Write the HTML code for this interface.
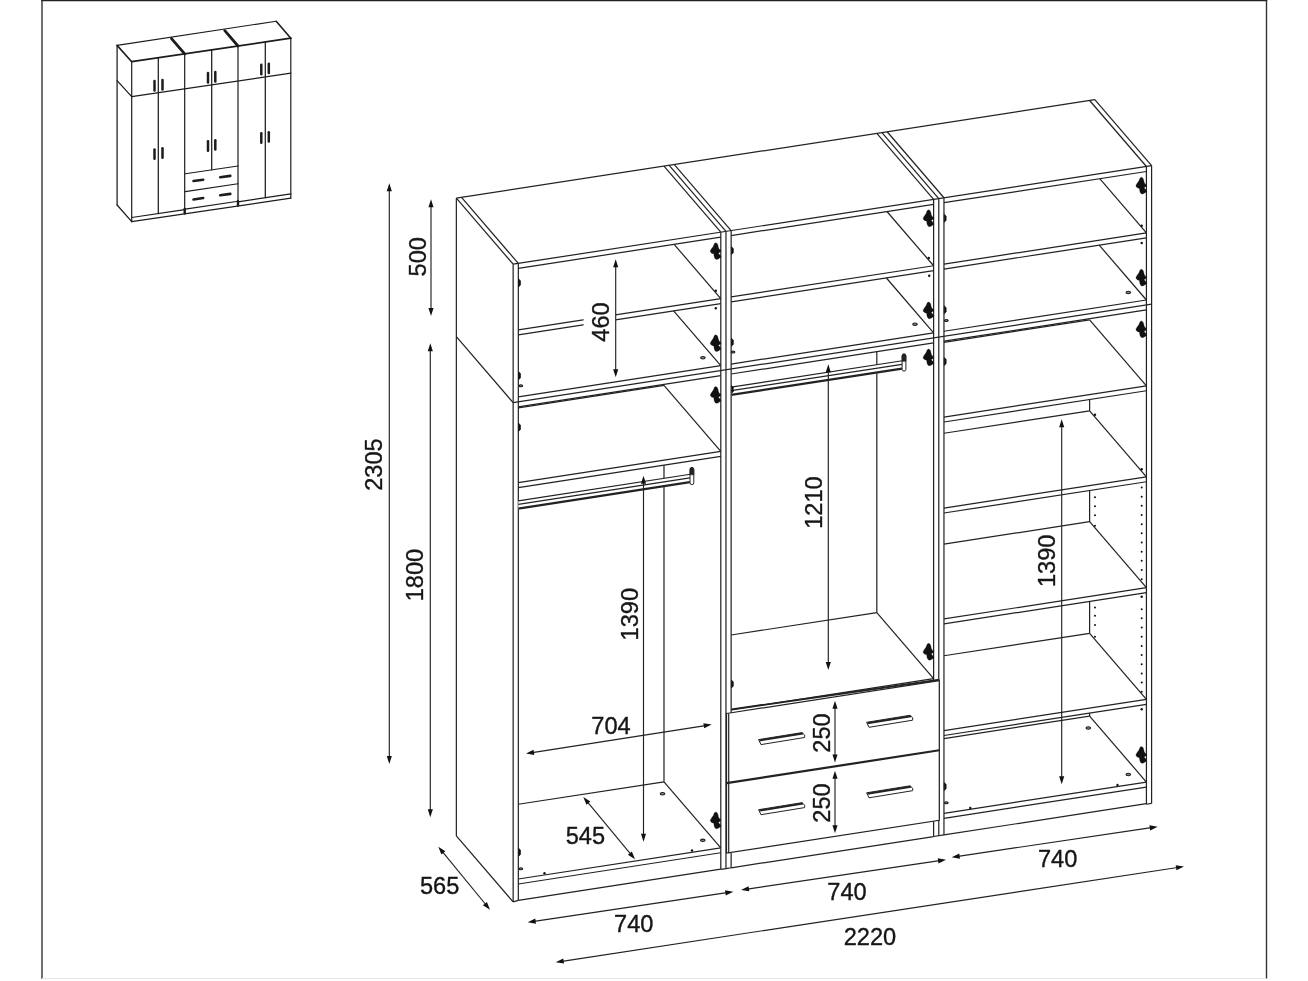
<!DOCTYPE html>
<html><head><meta charset="utf-8"><title>Wardrobe dimensions</title>
<style>
html,body{margin:0;padding:0;background:#fff}
svg{display:block;will-change:transform}
text{font-family:"Liberation Sans",Arial,sans-serif;font-size:23.6px;fill:#161616;stroke:#161616;stroke-width:0.35px;text-anchor:middle}
</style></head><body>
<svg width="1308" height="981" viewBox="0 0 1308 981">
<rect width="1308" height="981" fill="#fff"/>
<g stroke="#333" stroke-width="1.4" fill="none">
<line x1="42" y1="0" x2="42" y2="978.8"/>
<line x1="1266.5" y1="0" x2="1266.5" y2="978.8"/>
<line x1="41.3" y1="0.5" x2="1267.2" y2="0.5" stroke-width="1.6" stroke="#222"/>
<line x1="42" y1="978.5" x2="1266.5" y2="978.5" stroke="#e6e6e6" stroke-width="1"/>
</g>
<g stroke="#1c1c1c" stroke-width="1.25" fill="none" stroke-linecap="round" stroke-linejoin="round">
<line x1="117.1" y1="45.4" x2="276.2" y2="21.25" stroke-width="1.1"/>
<line x1="117.1" y1="45.4" x2="131.7" y2="61.7" stroke-width="1.6"/>
<line x1="276.2" y1="21.25" x2="290.8" y2="38.15" stroke-width="1.6"/>
<line x1="131.7" y1="61.7" x2="290.8" y2="38.15" stroke-width="1.7"/>
<line x1="184.7" y1="53.86" x2="171.5" y2="38.56" stroke-width="2.8"/>
<line x1="238" y1="45.97" x2="224.8" y2="30.67" stroke-width="2.8"/>
<line x1="117.1" y1="45.4" x2="117.1" y2="205"/>
<line x1="117.1" y1="205" x2="131.7" y2="221.7"/>
<line x1="117.1" y1="80.6" x2="131.7" y2="96.7"/>
<line x1="131.7" y1="61.7" x2="131.7" y2="221.7" stroke-width="1.2"/>
<line x1="158.3" y1="57.76" x2="158.3" y2="213.56"/>
<line x1="184.7" y1="53.86" x2="184.7" y2="213.86" stroke-width="1.2"/>
<line x1="211.7" y1="49.86" x2="211.7" y2="169.86"/>
<line x1="238" y1="45.97" x2="238" y2="205.97" stroke-width="1.2"/>
<line x1="265.3" y1="41.93" x2="265.3" y2="197.73"/>
<line x1="290.8" y1="38.15" x2="290.8" y2="198.15" stroke-width="1.2"/>
<line x1="131.7" y1="96.7" x2="290.8" y2="73.15" stroke-width="1.2"/>
<line x1="131.7" y1="217.5" x2="184.7" y2="209.66"/>
<line x1="238" y1="201.77" x2="290.8" y2="193.95"/>
<line x1="131.7" y1="221.7" x2="290.8" y2="198.15" stroke-width="1.2"/>
<line x1="185.3" y1="173.77" x2="238" y2="165.97" stroke-width="1.2"/>
<line x1="185.3" y1="191.57" x2="238" y2="183.77" stroke-width="1.2"/>
<line x1="185.3" y1="209.07" x2="238" y2="201.27" stroke-width="1.2"/>
<line x1="184.7" y1="208.86" x2="184.7" y2="213.36" stroke-width="2.4"/>
<line x1="238" y1="200.97" x2="238" y2="205.47" stroke-width="2.4"/>
<line x1="154.5" y1="81.1" x2="154.5" y2="90.5" stroke-width="2.5"/>
<line x1="162.5" y1="80" x2="162.5" y2="89.4" stroke-width="2.5"/>
<line x1="208" y1="73.1" x2="208" y2="82.5" stroke-width="2.5"/>
<line x1="215.3" y1="72" x2="215.3" y2="81.4" stroke-width="2.5"/>
<line x1="261.3" y1="64.8" x2="261.3" y2="74.2" stroke-width="2.5"/>
<line x1="268.8" y1="63.7" x2="268.8" y2="73.1" stroke-width="2.5"/>
<line x1="154.5" y1="149.4" x2="154.5" y2="158.8" stroke-width="2.5"/>
<line x1="162.5" y1="148.3" x2="162.5" y2="157.7" stroke-width="2.5"/>
<line x1="208" y1="141.3" x2="208" y2="150.7" stroke-width="2.5"/>
<line x1="215.3" y1="140.2" x2="215.3" y2="149.6" stroke-width="2.5"/>
<line x1="261.3" y1="133.3" x2="261.3" y2="142.7" stroke-width="2.5"/>
<line x1="268.8" y1="132.2" x2="268.8" y2="141.6" stroke-width="2.5"/>
<line x1="193.5" y1="181.05" x2="203.2" y2="179.75" stroke-width="2.6"/>
<line x1="220.2" y1="177.25" x2="230.3" y2="175.85" stroke-width="2.6"/>
<line x1="193.5" y1="199.45" x2="203.2" y2="198.05" stroke-width="2.6"/>
<line x1="220.2" y1="195.25" x2="230.3" y2="193.85" stroke-width="2.6"/>
</g>
<g stroke="#222" stroke-width="1.22" fill="none" stroke-linecap="butt" stroke-linejoin="miter">
<line x1="456.35" y1="198.2" x2="1094.8" y2="99.7"/>
<line x1="456.35" y1="198.2" x2="513.15" y2="264.2"/>
<line x1="1094.8" y1="99.7" x2="1151.6" y2="165.7"/>
<line x1="513.15" y1="264.2" x2="1151.6" y2="165.7"/>
<line x1="461.53" y1="197.4" x2="518.33" y2="263.4"/>
<line x1="663.99" y1="166.16" x2="720.79" y2="232.16"/>
<line x1="669.17" y1="165.37" x2="725.97" y2="231.36"/>
<line x1="674.34" y1="164.57" x2="731.14" y2="230.57"/>
<line x1="876.81" y1="133.33" x2="933.61" y2="199.33"/>
<line x1="881.98" y1="132.53" x2="938.78" y2="198.53"/>
<line x1="887.16" y1="131.73" x2="943.96" y2="197.73"/>
<line x1="1089.62" y1="100.5" x2="1146.42" y2="166.49"/>
<line x1="456.35" y1="198.2" x2="456.35" y2="835.95"/>
<line x1="456.35" y1="835.95" x2="513.15" y2="901.95"/>
<line x1="456.35" y1="336.68" x2="513.15" y2="402.68"/>
<line x1="513.15" y1="264.2" x2="513.15" y2="901.95"/>
<line x1="518.33" y1="263.4" x2="518.33" y2="900.32"/>
<line x1="513.15" y1="901.95" x2="518.33" y2="900.32"/>
<line x1="720.79" y1="232.16" x2="720.79" y2="869.36"/>
<line x1="725.97" y1="231.36" x2="725.97" y2="868.56"/>
<line x1="720.79" y1="869.36" x2="725.97" y2="868.56"/>
<line x1="731.14" y1="230.57" x2="731.14" y2="712.78"/>
<line x1="731.14" y1="852.43" x2="731.14" y2="867.76"/>
<line x1="725.97" y1="868.56" x2="731.14" y2="867.76"/>
<line x1="933.61" y1="199.33" x2="933.61" y2="681.55"/>
<line x1="933.61" y1="821.2" x2="933.61" y2="836.52"/>
<line x1="938.78" y1="198.53" x2="938.78" y2="835.72"/>
<line x1="943.96" y1="197.73" x2="943.96" y2="834.93"/>
<line x1="933.61" y1="836.52" x2="943.96" y2="834.93"/>
<line x1="1146.42" y1="166.49" x2="1146.42" y2="804.24"/>
<line x1="1151.6" y1="165.7" x2="1151.6" y2="803.44"/>
<line x1="1146.42" y1="804.24" x2="1151.6" y2="803.44"/>
<line x1="513.15" y1="402.68" x2="1151.6" y2="304.17"/>
<line x1="518.33" y1="268.38" x2="720.79" y2="237.14"/>
<line x1="518.33" y1="329.8" x2="720.79" y2="298.57"/>
<line x1="518.33" y1="334.78" x2="720.79" y2="303.55"/>
<line x1="720.79" y1="298.57" x2="674.12" y2="244.34"/>
<line x1="518.33" y1="396.9" x2="720.79" y2="365.66"/>
<line x1="720.79" y1="365.66" x2="673.6" y2="310.83"/>
<line x1="518.33" y1="406.86" x2="720.79" y2="375.62"/>
<line x1="731.14" y1="235.55" x2="933.61" y2="204.31"/>
<line x1="731.14" y1="296.97" x2="933.61" y2="265.73"/>
<line x1="731.14" y1="301.95" x2="933.61" y2="270.71"/>
<line x1="933.61" y1="265.73" x2="886.94" y2="211.51"/>
<line x1="731.14" y1="364.06" x2="933.61" y2="332.83"/>
<line x1="933.61" y1="332.83" x2="886.41" y2="277.99"/>
<line x1="731.14" y1="374.02" x2="933.61" y2="342.79"/>
<line x1="943.96" y1="202.71" x2="1146.42" y2="171.48"/>
<line x1="943.96" y1="264.13" x2="1146.42" y2="232.9"/>
<line x1="943.96" y1="269.11" x2="1146.42" y2="237.88"/>
<line x1="1146.42" y1="232.9" x2="1099.76" y2="178.67"/>
<line x1="943.96" y1="331.23" x2="1146.42" y2="299.99"/>
<line x1="1146.42" y1="299.99" x2="1099.23" y2="245.16"/>
<line x1="943.96" y1="341.19" x2="1146.42" y2="309.95"/>
<line x1="518.33" y1="482.7" x2="720.79" y2="451.46"/>
<line x1="518.33" y1="487.68" x2="720.79" y2="456.44"/>
<line x1="720.79" y1="451.46" x2="663.99" y2="385.46"/>
<line x1="518.33" y1="407.93" x2="663.99" y2="385.46" stroke-width="1.3"/>
<line x1="720.79" y1="847.78" x2="663.99" y2="781.78"/>
<line x1="663.99" y1="781.78" x2="663.99" y2="465.2"/>
<line x1="518.33" y1="804.25" x2="663.99" y2="781.78"/>
<line x1="518.33" y1="879.01" x2="720.79" y2="847.78"/>
<line x1="518.33" y1="883.99" x2="720.79" y2="852.76"/>
<line x1="518.33" y1="900.32" x2="720.79" y2="869.08"/>
<line x1="933.61" y1="678.54" x2="876.81" y2="612.54"/>
<line x1="876.81" y1="612.54" x2="876.81" y2="351.55"/>
<line x1="731.14" y1="635.01" x2="876.81" y2="612.54"/>
<line x1="731.14" y1="709.77" x2="933.61" y2="678.54"/>
<line x1="943.96" y1="417.03" x2="1146.42" y2="385.79"/>
<line x1="943.96" y1="422.01" x2="1146.42" y2="390.77"/>
<line x1="1146.42" y1="385.79" x2="1089.62" y2="319.79"/>
<line x1="943.96" y1="342.27" x2="1089.62" y2="319.79" stroke-width="1.3"/>
<line x1="1146.42" y1="476.79" x2="1089.62" y2="410.79"/>
<line x1="1089.62" y1="410.79" x2="1089.62" y2="399.53"/>
<line x1="943.96" y1="433.27" x2="1089.62" y2="410.79"/>
<line x1="943.96" y1="508.03" x2="1146.42" y2="476.79"/>
<line x1="943.96" y1="513.01" x2="1146.42" y2="481.77"/>
<line x1="1146.42" y1="587.68" x2="1089.62" y2="521.69"/>
<line x1="1089.62" y1="521.69" x2="1089.62" y2="490.53"/>
<line x1="943.96" y1="544.16" x2="1089.62" y2="521.69"/>
<line x1="943.96" y1="618.92" x2="1146.42" y2="587.68"/>
<line x1="943.96" y1="623.9" x2="1146.42" y2="592.67"/>
<line x1="1146.42" y1="699.3" x2="1089.62" y2="633.3"/>
<line x1="1089.62" y1="633.3" x2="1089.62" y2="601.43"/>
<line x1="943.96" y1="655.77" x2="1089.62" y2="633.3"/>
<line x1="943.96" y1="730.53" x2="1146.42" y2="699.3"/>
<line x1="943.96" y1="735.51" x2="1146.42" y2="704.28"/>
<line x1="1146.42" y1="782.11" x2="1089.62" y2="716.11"/>
<line x1="1089.62" y1="716.11" x2="1089.62" y2="713.04"/>
<line x1="943.96" y1="738.58" x2="1089.62" y2="716.11"/>
<line x1="943.96" y1="813.34" x2="1146.42" y2="782.11"/>
<line x1="943.96" y1="818.32" x2="1146.42" y2="787.09"/>
<line x1="943.96" y1="834.93" x2="1146.42" y2="803.69"/>
<path d="M726.5 713.5 L939.3 680.67 L939.3 820.32 L726.5 853.15 Z" fill="#fff"/>
<line x1="726.5" y1="783.1" x2="939.3" y2="750.27" stroke-width="2.2"/>
<line x1="728.7" y1="713.5" x2="728.7" y2="853.15"/>
<line x1="731.4" y1="709.5" x2="939.3" y2="679.7" stroke-width="1.9"/>
<line x1="731.14" y1="867.8" x2="933.61" y2="836.56"/>
<path d="M758.6 739.6 L802 732.6 L804.8 735.2 L804.6 737.5 L761 744.6 Z" fill="#fff" stroke-width="1.0"/>
<line x1="759.5" y1="740.5" x2="802.9" y2="733.5" stroke-width="2.0"/>
<path d="M866.6 722.3 L910 715.3 L912.8 717.9 L912.6 720.2 L869 727.3 Z" fill="#fff" stroke-width="1.0"/>
<line x1="867.5" y1="723.2" x2="910.9" y2="716.2" stroke-width="2.0"/>
<path d="M758.6 809.7 L802 802.7 L804.8 805.3 L804.6 807.6 L761 814.7 Z" fill="#fff" stroke-width="1.0"/>
<line x1="759.5" y1="810.6" x2="802.9" y2="803.6" stroke-width="2.0"/>
<path d="M866.6 792.8 L910 785.8 L912.8 788.4 L912.6 790.7 L869 797.8 Z" fill="#fff" stroke-width="1.0"/>
<line x1="867.5" y1="793.7" x2="910.9" y2="786.7" stroke-width="2.0"/>
<path d="M518.3 500.78 L691.9 474 L689.9 482.91 L518.3 509.38 Z" fill="#fff" stroke-width="0.01"/>
<line x1="518.3" y1="500.78" x2="691.9" y2="474"/>
<line x1="518.3" y1="504.28" x2="689.9" y2="477.81"/>
<line x1="518.3" y1="508.58" x2="689.9" y2="482.11" stroke-width="2.2"/>
<path d="M690 481.2 v-11.6 a1.9 2.2 0 0 1 3.8 0 v13.2 a1.9 1.8 0 0 1 -3.8 0 z" fill="#fff" stroke-width="1"/>
<path d="M690 474.8 v-5.2 a1.9 2.2 0 0 1 3.8 0 v5.2 z" fill="#222" stroke-width="0.6"/>
<path d="M731.2 387.16 L904 360.5 L902 369.41 L731.2 395.76 Z" fill="#fff" stroke-width="0.01"/>
<line x1="731.2" y1="387.16" x2="904" y2="360.5"/>
<line x1="731.2" y1="390.66" x2="902" y2="364.31"/>
<line x1="731.2" y1="394.96" x2="902" y2="368.61" stroke-width="2.2"/>
<path d="M902.1 367.7 v-11.6 a1.9 2.2 0 0 1 3.8 0 v13.2 a1.9 1.8 0 0 1 -3.8 0 z" fill="#fff" stroke-width="1"/>
<path d="M902.1 361.3 v-5.2 a1.9 2.2 0 0 1 3.8 0 v5.2 z" fill="#222" stroke-width="0.6"/>
<path d="M715.69 242.66 C717.39 242.86 717.99 244.66 718.19 246.26 C718.39 248.16 719.39 249.66 720.89 250.26 L720.89 251.56 L718.39 253.26 L720.89 255.96 L720.89 257.46 C719.09 257.86 718.19 259.56 716.59 259.46 C714.79 259.36 713.99 257.16 713.79 253.86 C712.59 253.66 710.59 253.06 710.29 251.46 C710.19 250.06 711.99 248.26 713.19 246.46 C713.79 245.06 714.19 242.86 715.69 242.66 Z" fill="#111" stroke="#111" stroke-width="0.25" stroke-linejoin="round"/>
<path d="M715.69 334.76 C717.39 334.96 717.99 336.76 718.19 338.36 C718.39 340.26 719.39 341.76 720.89 342.36 L720.89 343.66 L718.39 345.36 L720.89 348.06 L720.89 349.56 C719.09 349.96 718.19 351.66 716.59 351.56 C714.79 351.46 713.99 349.26 713.79 345.96 C712.59 345.76 710.59 345.16 710.29 343.56 C710.19 342.16 711.99 340.36 713.19 338.56 C713.79 337.16 714.19 334.96 715.69 334.76 Z" fill="#111" stroke="#111" stroke-width="0.25" stroke-linejoin="round"/>
<path d="M715.69 386.56 C717.39 386.76 717.99 388.56 718.19 390.16 C718.39 392.06 719.39 393.56 720.89 394.16 L720.89 395.46 L718.39 397.16 L720.89 399.86 L720.89 401.36 C719.09 401.76 718.19 403.46 716.59 403.36 C714.79 403.26 713.99 401.06 713.79 397.76 C712.59 397.56 710.59 396.96 710.29 395.36 C710.19 393.96 711.99 392.16 713.19 390.36 C713.79 388.96 714.19 386.76 715.69 386.56 Z" fill="#111" stroke="#111" stroke-width="0.25" stroke-linejoin="round"/>
<path d="M715.69 811.96 C717.39 812.16 717.99 813.96 718.19 815.56 C718.39 817.46 719.39 818.96 720.89 819.56 L720.89 820.86 L718.39 822.56 L720.89 825.26 L720.89 826.76 C719.09 827.16 718.19 828.86 716.59 828.76 C714.79 828.66 713.99 826.46 713.79 823.16 C712.59 822.96 710.59 822.36 710.29 820.76 C710.19 819.36 711.99 817.56 713.19 815.76 C713.79 814.36 714.19 812.16 715.69 811.96 Z" fill="#111" stroke="#111" stroke-width="0.25" stroke-linejoin="round"/>
<path d="M518.63 278.9 l1.9 1.8 v4.4 l-1.9 1.8 z" fill="#111" stroke="#111" stroke-width="0.6"/>
<path d="M518.63 371.7 l1.9 1.8 v4.4 l-1.9 1.8 z" fill="#111" stroke="#111" stroke-width="0.6"/>
<path d="M518.63 423.3 l1.9 1.8 v4.4 l-1.9 1.8 z" fill="#111" stroke="#111" stroke-width="0.6"/>
<path d="M518.63 848.3 l1.9 1.8 v4.4 l-1.9 1.8 z" fill="#111" stroke="#111" stroke-width="0.6"/>
<path d="M928.51 209.83 C930.21 210.03 930.81 211.83 931.01 213.43 C931.21 215.33 932.21 216.83 933.71 217.43 L933.71 218.73 L931.21 220.43 L933.71 223.13 L933.71 224.63 C931.91 225.03 931.01 226.73 929.41 226.63 C927.61 226.53 926.81 224.33 926.61 221.03 C925.41 220.83 923.41 220.23 923.11 218.63 C923.01 217.23 924.81 215.43 926.01 213.63 C926.61 212.23 927.01 210.03 928.51 209.83 Z" fill="#111" stroke="#111" stroke-width="0.25" stroke-linejoin="round"/>
<path d="M928.51 301.93 C930.21 302.13 930.81 303.93 931.01 305.53 C931.21 307.43 932.21 308.93 933.71 309.53 L933.71 310.83 L931.21 312.53 L933.71 315.23 L933.71 316.73 C931.91 317.13 931.01 318.83 929.41 318.73 C927.61 318.63 926.81 316.43 926.61 313.13 C925.41 312.93 923.41 312.33 923.11 310.73 C923.01 309.33 924.81 307.53 926.01 305.73 C926.61 304.33 927.01 302.13 928.51 301.93 Z" fill="#111" stroke="#111" stroke-width="0.25" stroke-linejoin="round"/>
<path d="M928.51 349.03 C930.21 349.23 930.81 351.03 931.01 352.63 C931.21 354.53 932.21 356.03 933.71 356.63 L933.71 357.93 L931.21 359.63 L933.71 362.33 L933.71 363.83 C931.91 364.23 931.01 365.93 929.41 365.83 C927.61 365.73 926.81 363.53 926.61 360.23 C925.41 360.03 923.41 359.43 923.11 357.83 C923.01 356.43 924.81 354.63 926.01 352.83 C926.61 351.43 927.01 349.23 928.51 349.03 Z" fill="#111" stroke="#111" stroke-width="0.25" stroke-linejoin="round"/>
<path d="M928.51 643.33 C930.21 643.53 930.81 645.33 931.01 646.93 C931.21 648.83 932.21 650.33 933.71 650.93 L933.71 652.23 L931.21 653.93 L933.71 656.63 L933.71 658.13 C931.91 658.53 931.01 660.23 929.41 660.13 C927.61 660.03 926.81 657.83 926.61 654.53 C925.41 654.33 923.41 653.73 923.11 652.13 C923.01 650.73 924.81 648.93 926.01 647.13 C926.61 645.73 927.01 643.53 928.51 643.33 Z" fill="#111" stroke="#111" stroke-width="0.25" stroke-linejoin="round"/>
<path d="M731.44 246.67 l1.9 1.8 v4.4 l-1.9 1.8 z" fill="#111" stroke="#111" stroke-width="0.6"/>
<path d="M731.44 338.27 l1.9 1.8 v4.4 l-1.9 1.8 z" fill="#111" stroke="#111" stroke-width="0.6"/>
<path d="M731.44 385.57 l1.9 1.8 v4.4 l-1.9 1.8 z" fill="#111" stroke="#111" stroke-width="0.6"/>
<path d="M731.44 679.97 l1.9 1.8 v4.4 l-1.9 1.8 z" fill="#111" stroke="#111" stroke-width="0.6"/>
<path d="M1141.32 177.19 C1143.02 177.39 1143.62 179.19 1143.82 180.79 C1144.02 182.69 1145.02 184.19 1146.52 184.79 L1146.52 186.09 L1144.02 187.79 L1146.52 190.49 L1146.52 191.99 C1144.72 192.39 1143.82 194.09 1142.22 193.99 C1140.42 193.89 1139.62 191.69 1139.42 188.39 C1138.22 188.19 1136.22 187.59 1135.92 185.99 C1135.82 184.59 1137.62 182.79 1138.82 180.99 C1139.42 179.59 1139.82 177.39 1141.32 177.19 Z" fill="#111" stroke="#111" stroke-width="0.25" stroke-linejoin="round"/>
<path d="M1141.32 269.19 C1143.02 269.39 1143.62 271.19 1143.82 272.79 C1144.02 274.69 1145.02 276.19 1146.52 276.79 L1146.52 278.09 L1144.02 279.79 L1146.52 282.49 L1146.52 283.99 C1144.72 284.39 1143.82 286.09 1142.22 285.99 C1140.42 285.89 1139.62 283.69 1139.42 280.39 C1138.22 280.19 1136.22 279.59 1135.92 277.99 C1135.82 276.59 1137.62 274.79 1138.82 272.99 C1139.42 271.59 1139.82 269.39 1141.32 269.19 Z" fill="#111" stroke="#111" stroke-width="0.25" stroke-linejoin="round"/>
<path d="M1141.32 320.89 C1143.02 321.09 1143.62 322.89 1143.82 324.49 C1144.02 326.39 1145.02 327.89 1146.52 328.49 L1146.52 329.79 L1144.02 331.49 L1146.52 334.19 L1146.52 335.69 C1144.72 336.09 1143.82 337.79 1142.22 337.69 C1140.42 337.59 1139.62 335.39 1139.42 332.09 C1138.22 331.89 1136.22 331.29 1135.92 329.69 C1135.82 328.29 1137.62 326.49 1138.82 324.69 C1139.42 323.29 1139.82 321.09 1141.32 320.89 Z" fill="#111" stroke="#111" stroke-width="0.25" stroke-linejoin="round"/>
<path d="M1141.32 746.49 C1143.02 746.69 1143.62 748.49 1143.82 750.09 C1144.02 751.99 1145.02 753.49 1146.52 754.09 L1146.52 755.39 L1144.02 757.09 L1146.52 759.79 L1146.52 761.29 C1144.72 761.69 1143.82 763.39 1142.22 763.29 C1140.42 763.19 1139.62 760.99 1139.42 757.69 C1138.22 757.49 1136.22 756.89 1135.92 755.29 C1135.82 753.89 1137.62 752.09 1138.82 750.29 C1139.42 748.89 1139.82 746.69 1141.32 746.49 Z" fill="#111" stroke="#111" stroke-width="0.25" stroke-linejoin="round"/>
<path d="M944.26 214.23 l1.9 1.8 v4.4 l-1.9 1.8 z" fill="#111" stroke="#111" stroke-width="0.6"/>
<path d="M944.26 305.83 l1.9 1.8 v4.4 l-1.9 1.8 z" fill="#111" stroke="#111" stroke-width="0.6"/>
<path d="M944.26 357.53 l1.9 1.8 v4.4 l-1.9 1.8 z" fill="#111" stroke="#111" stroke-width="0.6"/>
<path d="M944.26 782.53 l1.9 1.8 v4.4 l-1.9 1.8 z" fill="#111" stroke="#111" stroke-width="0.6"/>
<ellipse cx="702.9" cy="357.8" rx="2.3" ry="1.2" fill="#888" stroke="#1a1a1a" stroke-width="1.05"/>
<ellipse cx="662.5" cy="793.7" rx="2.3" ry="1.2" fill="#888" stroke="#1a1a1a" stroke-width="1.05"/>
<ellipse cx="702.8" cy="840.3" rx="2.3" ry="1.2" fill="#888" stroke="#1a1a1a" stroke-width="1.05"/>
<ellipse cx="915" cy="324.2" rx="2.3" ry="1.2" fill="#888" stroke="#1a1a1a" stroke-width="1.05"/>
<ellipse cx="1128.3" cy="292.5" rx="2.3" ry="1.2" fill="#888" stroke="#1a1a1a" stroke-width="1.05"/>
<ellipse cx="1088.3" cy="728" rx="2.3" ry="1.2" fill="#888" stroke="#1a1a1a" stroke-width="1.05"/>
<ellipse cx="1128.3" cy="774.5" rx="2.3" ry="1.2" fill="#888" stroke="#1a1a1a" stroke-width="1.05"/>
<ellipse cx="520.8" cy="868.7" rx="1.9" ry="1.0" fill="#888" stroke="#1a1a1a" stroke-width="1.05"/>
<ellipse cx="520.8" cy="385.8" rx="1.9" ry="1.0" fill="#888" stroke="#1a1a1a" stroke-width="1.05"/>
<ellipse cx="733" cy="352" rx="1.9" ry="1.0" fill="#888" stroke="#1a1a1a" stroke-width="1.05"/>
<ellipse cx="946.3" cy="320.5" rx="1.9" ry="1.0" fill="#888" stroke="#1a1a1a" stroke-width="1.05"/>
<ellipse cx="946.3" cy="802.8" rx="1.9" ry="1.0" fill="#888" stroke="#1a1a1a" stroke-width="1.05"/>
<circle cx="544.5" cy="873.3" r="1.2" fill="#111" stroke="none"/>
<circle cx="692" cy="850.5" r="1.2" fill="#111" stroke="none"/>
<circle cx="715.8" cy="290.8" r="1.2" fill="#111" stroke="none"/>
<circle cx="715.8" cy="308.3" r="1.2" fill="#111" stroke="none"/>
<circle cx="928.8" cy="258" r="1.2" fill="#111" stroke="none"/>
<circle cx="929.2" cy="275.8" r="1.2" fill="#111" stroke="none"/>
<circle cx="1141.7" cy="225.8" r="1.2" fill="#111" stroke="none"/>
<circle cx="1141.7" cy="243" r="1.2" fill="#111" stroke="none"/>
<circle cx="1117.5" cy="785" r="1.2" fill="#111" stroke="none"/>
<circle cx="970.3" cy="808" r="1.2" fill="#111" stroke="none"/>
<circle cx="1141.7" cy="709.2" r="1.2" fill="#111" stroke="none"/>
<circle cx="1095" cy="414.7" r="1.2" fill="#111" stroke="none"/>
<circle cx="1141.7" cy="469.2" r="1.2" fill="#111" stroke="none"/>
<circle cx="1141.7" cy="596.7" r="1.2" fill="#111" stroke="none"/>
<circle cx="1141.7" cy="487.5" r="1.0" fill="#111" stroke="none"/>
<circle cx="1141.7" cy="496.67" r="1.0" fill="#111" stroke="none"/>
<circle cx="1141.7" cy="505.84" r="1.0" fill="#111" stroke="none"/>
<circle cx="1141.7" cy="515.01" r="1.0" fill="#111" stroke="none"/>
<circle cx="1141.7" cy="524.18" r="1.0" fill="#111" stroke="none"/>
<circle cx="1141.7" cy="533.35" r="1.0" fill="#111" stroke="none"/>
<circle cx="1141.7" cy="542.52" r="1.0" fill="#111" stroke="none"/>
<circle cx="1141.7" cy="551.69" r="1.0" fill="#111" stroke="none"/>
<circle cx="1141.7" cy="560.86" r="1.0" fill="#111" stroke="none"/>
<circle cx="1141.7" cy="570.03" r="1.0" fill="#111" stroke="none"/>
<circle cx="1141.7" cy="579.2" r="1.0" fill="#111" stroke="none"/>
<circle cx="1141.7" cy="609.2" r="1.0" fill="#111" stroke="none"/>
<circle cx="1141.7" cy="618.37" r="1.0" fill="#111" stroke="none"/>
<circle cx="1141.7" cy="627.54" r="1.0" fill="#111" stroke="none"/>
<circle cx="1141.7" cy="636.71" r="1.0" fill="#111" stroke="none"/>
<circle cx="1141.7" cy="645.88" r="1.0" fill="#111" stroke="none"/>
<circle cx="1141.7" cy="655.05" r="1.0" fill="#111" stroke="none"/>
<circle cx="1141.7" cy="664.22" r="1.0" fill="#111" stroke="none"/>
<circle cx="1141.7" cy="673.39" r="1.0" fill="#111" stroke="none"/>
<circle cx="1141.7" cy="682.56" r="1.0" fill="#111" stroke="none"/>
<circle cx="1141.7" cy="691.73" r="1.0" fill="#111" stroke="none"/>
<circle cx="1095" cy="497.2" r="1.0" fill="#111" stroke="none"/>
<circle cx="1095" cy="506.3" r="1.0" fill="#111" stroke="none"/>
<circle cx="1095" cy="515.3" r="1.0" fill="#111" stroke="none"/>
<circle cx="1095" cy="525.8" r="1.0" fill="#111" stroke="none"/>
<circle cx="1095" cy="607.5" r="1.0" fill="#111" stroke="none"/>
<circle cx="1095" cy="615.8" r="1.0" fill="#111" stroke="none"/>
<circle cx="1095" cy="625" r="1.0" fill="#111" stroke="none"/>
<circle cx="1095" cy="636.7" r="1.0" fill="#111" stroke="none"/>
<rect x="583.6" y="300.5" width="32.4" height="43" fill="#fff" stroke="none"/>
<line x1="389.3" y1="189.7" x2="389.3" y2="757.6" stroke-width="1.15"/>
<path d="M389.3 183.3 L386.75 191.3 L391.85 191.3 Z" fill="#111" stroke="none"/>
<path d="M389.3 764 L386.75 756 L391.85 756 Z" fill="#111" stroke="none"/>
<line x1="431" y1="205.7" x2="431" y2="309.6" stroke-width="1.15"/>
<path d="M431 199.3 L428.45 207.3 L433.55 207.3 Z" fill="#111" stroke="none"/>
<path d="M431 316 L428.45 308 L433.55 308 Z" fill="#111" stroke="none"/>
<line x1="430.3" y1="349.7" x2="430.3" y2="810.9" stroke-width="1.15"/>
<path d="M430.3 343.3 L427.75 351.3 L432.85 351.3 Z" fill="#111" stroke="none"/>
<path d="M430.3 817.3 L427.75 809.3 L432.85 809.3 Z" fill="#111" stroke="none"/>
<line x1="615.7" y1="265.7" x2="615.7" y2="370.9" stroke-width="1.15"/>
<path d="M615.7 259.3 L613.15 267.3 L618.25 267.3 Z" fill="#111" stroke="none"/>
<path d="M615.7 377.3 L613.15 369.3 L618.25 369.3 Z" fill="#111" stroke="none"/>
<line x1="643.5" y1="482.2" x2="643.5" y2="835.3" stroke-width="1.15"/>
<path d="M643.5 475.8 L640.95 483.8 L646.05 483.8 Z" fill="#111" stroke="none"/>
<path d="M643.5 841.7 L640.95 833.7 L646.05 833.7 Z" fill="#111" stroke="none"/>
<line x1="828.3" y1="370.7" x2="828.3" y2="663.6" stroke-width="1.15"/>
<path d="M828.3 364.3 L825.75 372.3 L830.85 372.3 Z" fill="#111" stroke="none"/>
<path d="M828.3 670 L825.75 662 L830.85 662 Z" fill="#111" stroke="none"/>
<line x1="1061.7" y1="425.6" x2="1061.7" y2="777.8" stroke-width="1.15"/>
<path d="M1061.7 419.2 L1059.15 427.2 L1064.25 427.2 Z" fill="#111" stroke="none"/>
<path d="M1061.7 784.2 L1059.15 776.2 L1064.25 776.2 Z" fill="#111" stroke="none"/>
<line x1="835" y1="707.2" x2="835" y2="756.1" stroke-width="1.15"/>
<path d="M835 700.8 L832.45 708.8 L837.55 708.8 Z" fill="#111" stroke="none"/>
<path d="M835 762.5 L832.45 754.5 L837.55 754.5 Z" fill="#111" stroke="none"/>
<line x1="835" y1="777.2" x2="835" y2="826.9" stroke-width="1.15"/>
<path d="M835 770.8 L832.45 778.8 L837.55 778.8 Z" fill="#111" stroke="none"/>
<path d="M835 833.3 L832.45 825.3 L837.55 825.3 Z" fill="#111" stroke="none"/>
<line x1="532.32" y1="752.61" x2="705.38" y2="725.59" stroke-width="1.15"/>
<path d="M526 753.6 L534.3 754.89 L533.51 749.85 Z" fill="#111" stroke="none"/>
<path d="M711.7 724.6 L704.19 728.35 L703.4 723.31 Z" fill="#111" stroke="none"/>
<line x1="587.39" y1="801.92" x2="630.91" y2="854.28" stroke-width="1.15"/>
<path d="M583.3 797 L586.45 804.78 L590.37 801.52 Z" fill="#111" stroke="none"/>
<path d="M635 859.2 L627.93 854.68 L631.85 851.42 Z" fill="#111" stroke="none"/>
<line x1="442.36" y1="851.65" x2="485.94" y2="904.75" stroke-width="1.15"/>
<path d="M438.3 846.7 L441.4 854.5 L445.35 851.27 Z" fill="#111" stroke="none"/>
<path d="M490 909.7 L482.95 905.13 L486.9 901.9 Z" fill="#111" stroke="none"/>
<line x1="534.03" y1="921.36" x2="726.97" y2="892.64" stroke-width="1.15"/>
<path d="M527.7 922.3 L535.99 923.64 L535.24 918.6 Z" fill="#111" stroke="none"/>
<path d="M733.3 891.7 L725.76 895.4 L725.01 890.36 Z" fill="#111" stroke="none"/>
<line x1="747.33" y1="889.06" x2="939.67" y2="860.64" stroke-width="1.15"/>
<path d="M741 890 L749.29 891.35 L748.54 886.31 Z" fill="#111" stroke="none"/>
<path d="M946 859.7 L938.46 863.39 L937.71 858.35 Z" fill="#111" stroke="none"/>
<line x1="958.03" y1="856.36" x2="1151.37" y2="827.64" stroke-width="1.15"/>
<path d="M951.7 857.3 L959.99 858.65 L959.24 853.6 Z" fill="#111" stroke="none"/>
<path d="M1157.7 826.7 L1150.16 830.4 L1149.41 825.35 Z" fill="#111" stroke="none"/>
<line x1="562.03" y1="961.34" x2="1177.67" y2="867.46" stroke-width="1.15"/>
<path d="M555.7 962.3 L563.99 963.62 L563.22 958.57 Z" fill="#111" stroke="none"/>
<path d="M1184 866.5 L1176.48 870.23 L1175.71 865.18 Z" fill="#111" stroke="none"/>
<text x="417.7" y="265.15" transform="rotate(-90 417.7 256.7)">500</text>
<text x="601" y="330.45" transform="rotate(-90 601 322)">460</text>
<text x="373.5" y="472.95" transform="rotate(-90 373.5 464.5)">2305</text>
<text x="414.2" y="583.45" transform="rotate(-90 414.2 575)">1800</text>
<text x="629.2" y="622.65" transform="rotate(-90 629.2 614.2)">1390</text>
<text x="813.2" y="510.95" transform="rotate(-90 813.2 502.5)">1210</text>
<text x="1046.8" y="569.25" transform="rotate(-90 1046.8 560.8)">1390</text>
<text x="822" y="741.45" transform="rotate(-90 822 733)">250</text>
<text x="822" y="811.45" transform="rotate(-90 822 803)">250</text>
<text x="611" y="733.85">704</text>
<text x="585.4" y="844.25">545</text>
<text x="439.7" y="894.45">565</text>
<text x="633.8" y="932.45">740</text>
<text x="847" y="899.65">740</text>
<text x="1057.7" y="867.45">740</text>
<text x="870" y="944.95">2220</text>
</g>
</svg>
</body></html>
